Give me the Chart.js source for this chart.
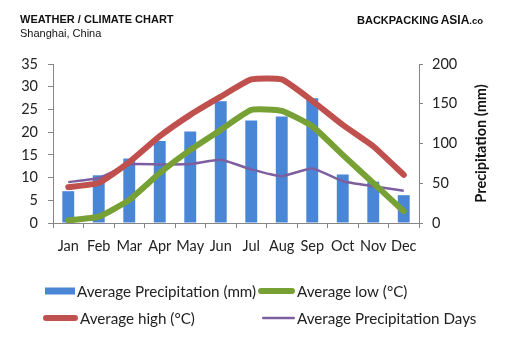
<!DOCTYPE html>
<html>
<head>
<meta charset="utf-8">
<script src="https://cdn.jsdelivr.net/npm/chart.js@4"></script>
<style>
  html, body { margin: 0; padding: 0; background: #fff; }
  #wrap { position: relative; width: 509px; height: 340px; overflow: hidden; }
  #c { position: absolute; left: 0; top: 0; }
  .hdr { position: absolute; font-family: "Liberation Sans", Arial, sans-serif; color: #111; white-space: nowrap; }
  #t1 { left: 20px; top: 13px; font-size: 11px; font-weight: bold; }
  #t2 { left: 20px; top: 27px; font-size: 11px; }
  #brand { left: 357px; top: 13px; font-size: 11px; font-weight: bold; }
  #brand .a { font-weight: 900; font-size: 12px; margin-left: 2px; }
  #brand .co { font-size: 9.5px; }
</style>
</head>
<body>
<div id="wrap">
  <canvas id="c" width="509" height="340"></canvas>
  <div class="hdr" id="t1">WEATHER / CLIMATE CHART</div>
  <div class="hdr" id="t2">Shanghai, China</div>
  <div class="hdr" id="brand">BACKPACKING<span class="a">ASIA</span><span class="co">.co</span></div>
</div>
<script>
// Shanghai monthly climate figures
const months = ["Jan", "Feb", "Mar", "Apr", "May", "Jun", "Jul", "Aug", "Sep", "Oct", "Nov", "Dec"];
const precipitationMm = [40, 60, 81, 103, 115, 153, 129, 134, 157, 61, 52, 35];
const avgLowC = [0.6, 1.4, 5.1, 11.0, 16.1, 20.5, 24.9, 24.7, 21.3, 15.0, 8.8, 2.6];
const avgHighC = [7.9, 8.8, 13.4, 19.1, 23.8, 27.8, 31.6, 31.6, 26.9, 21.6, 16.9, 10.6];
const precipDays = [9.0, 9.9, 12.9, 12.9, 13.0, 13.9, 11.8, 10.3, 12.0, 9.2, 8.1, 7.1];
const leftTicks = [0, 5, 10, 15, 20, 25, 30, 35];
const rightTicks = [0, 50, 100, 150, 200];
const rightTitle = "Precipitation (mm)";

const FONT = "Lato, 'Open Sans', sans-serif";
const AXIS = "#868686";

// Two-row legend under the plot, plus the rotated right-axis title
const extras = {
  id: "extras",
  afterDraw(chart) {
    const ctx = chart.ctx;
    const ds = chart.data.datasets;
    const items = [
      { d: ds[0], x0: 45, x1: 75, y: 291, kind: "box" },
      { d: ds[1], x0: 258, x1: 295, y: 291, kind: "line" },
      { d: ds[2], x0: 43, x1: 78, y: 318, kind: "line" },
      { d: ds[3], x0: 262, x1: 295, y: 318, kind: "line" }
    ];
    ctx.save();
    ctx.font = "15.2px " + FONT;
    ctx.textBaseline = "middle";
    items.forEach(it => {
      if (it.kind === "box") {
        ctx.fillStyle = it.d.backgroundColor;
        ctx.fillRect(it.x0, it.y - 3.5, it.x1 - it.x0, 7);
      } else {
        ctx.strokeStyle = it.d.borderColor;
        ctx.lineWidth = it.d.borderWidth;
        ctx.lineCap = "round";
        ctx.beginPath();
        ctx.moveTo(it.x0 + it.d.borderWidth / 2, it.y);
        ctx.lineTo(it.x1 - it.d.borderWidth / 2, it.y);
        ctx.stroke();
      }
      ctx.fillStyle = "#222";
      ctx.fillText(it.d.label, it.x1 + 2, it.y + 1);
    });

    const yR = chart.scales.yR;
    ctx.translate(481, (yR.top + yR.bottom) / 2);
    ctx.rotate(-Math.PI / 2);
    ctx.font = "bold 14.5px " + FONT;
    ctx.fillStyle = "#111";
    ctx.textAlign = "center";
    ctx.fillText(rightTitle, 0, 0);
    ctx.restore();
  }
};

new Chart(document.getElementById("c"), {
  data: {
    labels: months,
    datasets: [
      {
        type: "bar", label: "Average Precipitation (mm)", data: precipitationMm,
        yAxisID: "yR", backgroundColor: "#4a86d6", barPercentage: 0.39, categoryPercentage: 1, order: 4
      },
      {
        type: "line", label: "Average low (°C)", data: avgLowC, yAxisID: "yL",
        borderColor: "#77a035", borderWidth: 6, tension: 0.15, pointRadius: 0,
        borderCapStyle: "round", borderJoinStyle: "round", order: 2
      },
      {
        type: "line", label: "Average high (°C)", data: avgHighC, yAxisID: "yL",
        borderColor: "#c0504d", borderWidth: 6, tension: 0.15, pointRadius: 0,
        borderCapStyle: "round", borderJoinStyle: "round", order: 1
      },
      {
        type: "line", label: "Average Precipitation Days", data: precipDays, yAxisID: "yL",
        borderColor: "#7d5fa0", borderWidth: 2.5, tension: 0.15, pointRadius: 0,
        borderJoinStyle: "round", order: 3
      }
    ]
  },
  options: {
    responsive: false,
    animation: false,
    layout: { padding: { top: 64, left: 0, right: 0, bottom: 0 } },
    plugins: { legend: { display: false }, tooltip: { enabled: false } },
    scales: {
      x: {
        offset: true,
        grid: { display: true, drawOnChartArea: false, offset: true, tickLength: 5, color: AXIS },
        border: { color: AXIS },
        ticks: { color: "#222", font: { family: FONT, size: 14.5 }, padding: 10, maxRotation: 0, autoSkip: false },
        afterFit(s) { s.height = 117; }
      },
      yL: {
        position: "left", min: 0, max: 35,
        afterBuildTicks(s) { s.ticks = leftTicks.map(v => ({ value: v })); },
        grid: { display: true, drawOnChartArea: false, tickLength: 5, color: AXIS },
        border: { color: AXIS },
        ticks: { color: "#222", font: { family: FONT, size: 14.5 }, padding: 10 },
        afterFit(s) { s.width = 53; }
      },
      yR: {
        position: "right", min: 0, max: 200,
        afterBuildTicks(s) { s.ticks = rightTicks.map(v => ({ value: v })); },
        grid: { display: true, drawOnChartArea: false, tickLength: 4, color: AXIS },
        border: { color: AXIS },
        ticks: { color: "#222", font: { family: FONT, size: 14.5 }, padding: 9 },
        afterFit(s) { s.width = 90; }
      }
    }
  },
  plugins: [extras]
});
</script>
</body>
</html>
